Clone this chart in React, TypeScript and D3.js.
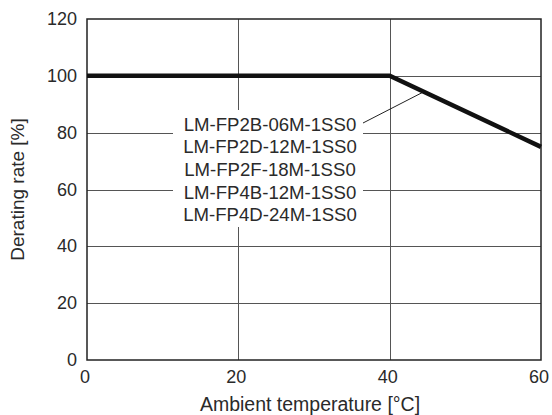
import React from "react";
import * as d3 from "d3";

const temps = [0, 40, 60];
const rates = [100, 100, 75];
const xTicks = [0, 20, 40, 60];
const yTicks = [0, 20, 40, 60, 80, 100, 120];
const models = [
  "LM-FP2B-06M-1SS0",
  "LM-FP2D-12M-1SS0",
  "LM-FP2F-18M-1SS0",
  "LM-FP4B-12M-1SS0",
  "LM-FP4D-24M-1SS0",
];
const leaderTemp = 44.5;

export default function App() {
  const W = 552, H = 415;
  const m = { l: 87, r: 541, t: 19, b: 360 };
  const x = d3.scaleLinear().domain([0, 60]).range([m.l, m.r]);
  const y = d3.scaleLinear().domain([0, 120]).range([m.b, m.t]);
  const line = d3.line<number>().x((_, i) => x(temps[i])).y((d) => y(d));
  const font = "Liberation Sans, Arial, sans-serif";
  const txt = "#2a2a2a";
  const fs = 18;
  const fsL = 18.6;
  const lineH = 22.7;
  const boxX = 173, boxW = 190, boxTop = 110;
  const leaderY = 123;
  const slope = (rates[2] - rates[1]) / (temps[2] - temps[1]);
  const leaderVal = rates[1] + slope * (leaderTemp - temps[1]);
  return (
    <svg width={W} height={H} style={{ position: "absolute", left: 0, top: 0 }}>
      <rect width={W} height={H} fill="#fff" />
      {yTicks.filter((t) => t > 0 && t < 120).map((t) => (
        <line key={"h" + t} x1={m.l} x2={m.r} y1={Math.round(y(t)) + 0.5} y2={Math.round(y(t)) + 0.5} stroke="#555" strokeWidth={1} />
      ))}
      {xTicks.filter((t) => t > 0 && t < 60).map((t) => (
        <line key={"v" + t} x1={Math.round(x(t)) + 0.5} x2={Math.round(x(t)) + 0.5} y1={m.t} y2={m.b} stroke="#555" strokeWidth={1} />
      ))}
      <rect x={boxX} y={boxTop} width={boxW} height={117} fill="#fff" />
      <rect x={m.l} y={m.t} width={m.r - m.l} height={m.b - m.t} fill="none" stroke="#222" strokeWidth={1.5} />
      <line x1={boxX + boxW} y1={leaderY} x2={x(leaderTemp)} y2={y(leaderVal)} stroke="#222" strokeWidth={1} />
      <path d={line(rates) || ""} fill="none" stroke="#111" strokeWidth={4.5} strokeLinejoin="miter" />
      {models.map((s, i) => (
        <text key={s} x={270} y={124 + i * lineH} textAnchor="middle" dominantBaseline="central" fontFamily={font} fontSize={fsL} fill={txt}>{s}</text>
      ))}
      {yTicks.map((t) => (
        <text key={"yt" + t} x={m.l - 10} y={y(t)} textAnchor="end" dominantBaseline="central" fontFamily={font} fontSize={fs} fill={txt}>{t}</text>
      ))}
      {xTicks.map((t) => (
        <text key={"xt" + t} x={x(t) - 2} y={377} textAnchor="middle" dominantBaseline="central" fontFamily={font} fontSize={fs} fill={txt}>{t}</text>
      ))}
      <text x={310} y={404} textAnchor="middle" dominantBaseline="central" fontFamily={font} fontSize={19.5} fill={txt}>Ambient temperature [°C]</text>
      <text transform={`translate(17,${(m.t + m.b) / 2}) rotate(-90)`} textAnchor="middle" dominantBaseline="central" fontFamily={font} fontSize={19} fill={txt}>Derating rate [%]</text>
    </svg>
  );
}
